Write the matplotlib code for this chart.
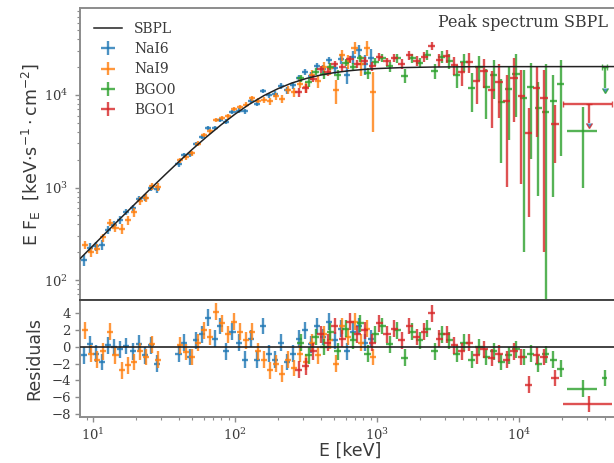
import numpy as np
import matplotlib.pyplot as plt

# SBPL model curve (E in keV, E F_E in keV s^-1 cm^-2)
model_E = [8, 10, 12.5, 16, 20, 25, 32, 40, 50, 63, 80, 100, 125, 160, 200, 250,
           320, 400, 500, 630, 800, 1000, 1500, 2500, 5000, 60000]
model_F = [167, 236, 332, 483, 678, 948, 1365, 1888, 2588, 3524, 4775, 6210, 7870,
           9860, 11670, 13430, 15130, 16410, 17440, 18250, 18870, 19300, 19770,
           20050, 20220, 20280]

# NaI6
nai6_E = [8.6, 9.5, 10.5, 11.6, 12.8, 14.1, 15.6, 17.2, 19.0, 21.0, 23.2, 25.6, 28.3,
          40, 44, 48.5, 53.5, 59, 65, 72, 79, 87, 96, 106, 117, 129, 142, 157, 173,
          191, 210, 232, 256, 282, 311, 343, 378, 417, 460, 507, 559, 617, 680, 750,
          827, 912]
nai6_F = [164, 225, 234, 242, 350, 399, 451, 545, 604, 752, 779, 998, 962,
          1798, 2228, 2299, 2968, 3503, 4388, 4418, 5370, 5152, 6516, 6789, 6684,
          8597, 8054, 11155, 9954, 10198, 12503, 11230, 12765, 15433, 17652, 16027,
          20565, 19025, 23756, 19600, 24539, 16462, 25799, 30420, 21580, 25265]
nai6_dF = [22, 24, 25, 30, 31, 36, 42, 43, 50, 58, 68, 79, 92,
           113, 130, 149, 170, 178, 202, 230, 260, 291, 326, 363, 441, 487, 531, 582,
           683, 735, 846, 900, 1019, 1143, 1346, 1556, 1774, 1996, 2222, 2625, 3036,
           3456, 4066, 4680, 5300, 6125]
nai6_res = [-1.0, 0.3, -0.8, -1.8, 0.2, 0.0, -0.3, 0.1, -0.5, 0.4, -1.0, 0.2, -2.0,
            -0.8, 0.5, -1.2, 0.8, 1.5, 3.5, 1.0, 2.5, -0.5, 1.8, 0.5, -1.5, 1.0, -1.5,
            2.5, -0.8, -1.5, 0.5, -1.8, -0.8, 1.0, 2.0, 0.3, 2.5, 1.2, 3.0, 0.8, 2.2,
            -0.5, 1.8, 2.5, 0.5, 1.0]

# NaI9
nai9_E = [8.8, 9.7, 10.7, 11.8, 13.1, 14.4, 15.9, 17.5, 19.4, 21.4, 23.7, 26.1, 28.9,
          40.8, 45, 49.5, 54.5, 60, 66.5, 73.5, 80.5, 89, 98, 108, 119, 132, 145, 160,
          177, 195, 214, 237, 261, 288, 317, 350, 386, 425, 469, 517, 570, 629, 694,
          765, 844, 930]
nai9_F = [242, 203, 219, 289, 419, 370, 358, 447, 543, 716, 778, 1036, 1019,
          1964, 2131, 2342, 2987, 3712, 4037, 5359, 5629, 5895, 7137, 7467, 7874,
          9222, 8708, 8820, 8569, 9739, 9104, 11346, 10640, 13278, 12106, 16625,
          14131, 20243, 19373, 11256, 26897, 23084, 32436, 21405, 32321, 10893]
nai9_dF = [25, 27, 29, 30, 36, 41, 43, 50, 58, 68, 78, 91, 106,
           136, 144, 165, 174, 199, 226, 257, 289, 324, 363, 404, 487, 537, 585, 690,
           746, 859, 979, 1105, 1236, 1443, 1660, 1882, 2112, 2342, 2748, 3166, 3586,
           4018, 4634, 5257, 6070, 6904]
nai9_res = [2.0, -0.8, -1.5, -0.5, 1.8, -1.0, -2.8, -2.2, -1.8, -0.5, -1.2, 0.3, -1.5,
            0.2, -0.6, -1.2, 0.5, 2.0, 1.2, 4.2, 2.8, 1.5, 3.0, 1.8, 0.8, 1.8, -0.5,
            -1.5, -2.8, -2.0, -3.2, -1.5, -2.5, -0.8, -1.8, 0.5, -1.0, 1.5, 0.8, -2.0,
            2.5, 1.2, 3.0, 0.5, 2.2, -1.2]

# BGO0
bgo0_E = [290, 330, 370, 420, 470, 530, 600, 680, 760, 860, 970, 1090, 1230, 1390,
          1570, 1770, 2000, 2250, 2540, 2860, 3230, 3640, 4100, 4630, 5220, 5890,
          6640, 7490, 8450, 9530, 10750, 12100, 13700, 15400, 17400, 19600]
bgo0_F = [15173, 13815, 17920, 16650, 20213, 16632, 22418, 20106, 25117, 17221,
          22715, 25285, 20364, 24847, 16221, 24940, 22344, 27040, 18346, 25829,
          23512, 16442, 22691, 12013, 20210, 12213, 16487, 8400, 11745, 16909, 9315,
          12150, 7290, 6581, 8600, 13100]
bgo0_dF = [1445, 1535, 1600, 1665, 1713, 1936, 1986, 2033, 2256, 2286, 2310, 2334,
           2548, 2564, 2776, 2789, 2993, 3200, 3409, 3819, 4227, 4635, 5043, 5451,
           6063, 6673, 7485, 6578, 8505, 11138, 9113, 10125, 6480, 15188, 7800, 10900]
bgo0_res = [0.5, -1.0, 1.2, 0.0, 1.8, -0.5, 2.2, 0.8, 2.8, -0.8, 1.5, 2.5, 0.3, 2.0,
            -1.3, 1.8, 0.8, 2.2, -0.5, 1.5, 0.8, -0.8, 0.5, -1.5, 0.0, -1.2, -0.5,
            -1.8, -1.0, -0.3, -1.2, -0.8, -2.0, -0.9, -1.5, -2.6]

# BGO1
bgo1_E = [280, 315, 355, 400, 450, 505, 570, 645, 725, 820, 925, 1040, 1175, 1325,
          1495, 1690, 1905, 2150, 2430, 2740, 3090, 3490, 3940, 4450, 5020, 5670,
          6400, 7230, 8160, 9210, 10400, 11700, 13300, 15000, 17900]
bgo1_F = [10749, 11895, 15070, 18860, 17798, 21750, 19814, 24339, 21728, 23498,
          20331, 25891, 23057, 25309, 21848, 26838, 23529, 25734, 33651, 23895,
          26458, 21066, 17640, 22904, 14140, 18274, 11286, 13763, 8706, 15188, 9801,
          3880, 12000, 9315, 4860]
bgo1_dF = [1278, 1350, 1420, 1640, 1695, 1740, 1964, 2013, 2052, 2274, 2302, 2326,
           2345, 2558, 2573, 2783, 2991, 3197, 3405, 3815, 4225, 4632, 5040, 5449,
           6060, 6469, 6877, 8096, 7693, 10125, 8708, 3400, 8500, 9113, 3000]
bgo1_res = [-2.7, -2.3, -0.5, 1.5, 0.5, 2.5, 1.0, 3.0, 1.5, 2.0, 0.5, 2.8, 1.5, 2.2,
            0.8, 2.5, 1.2, 1.8, 4.0, 1.0, 1.5, 0.2, -0.5, 0.5, -1.0, -0.3, -1.3, -0.8,
            -1.5, -0.5, -1.2, -4.5, -1.0, -1.2, -3.7]

# last wide BGO bins
bgo0_wide_E, bgo0_wide_lo, bgo0_wide_hi = [28000], [21600], [35500]
bgo0_wide_F, bgo0_wide_dlo, bgo0_wide_dhi = [4070], [3080], [3350]
bgo0_wide_res = [-5.0]
bgo0_ul_E, bgo0_ul_lo, bgo0_ul_hi = [40000], [38500], [41500]
bgo0_ul_F, bgo0_ul_len, bgo0_ul_res = [20300], [8400], [-3.7]
bgo1_ul_E, bgo1_ul_lo, bgo1_ul_hi = [31100], [20400], [45000]
bgo1_ul_F, bgo1_ul_len, bgo1_ul_res = [7950], [2970], [-6.8]

colors = {'NaI6': '#1f77b4', 'NaI9': '#ff7f0e', 'BGO0': '#2ca02c', 'BGO1': '#d62728'}

plt.rcParams['font.family'] = ['DejaVu Serif']
plt.rcParams['mathtext.fontset'] = 'dejavuserif'
plt.rcParams['axes.edgecolor'] = '#8c8c8c'
plt.rcParams['axes.linewidth'] = 1.4
plt.rcParams['xtick.color'] = '#8c8c8c'
plt.rcParams['ytick.color'] = '#8c8c8c'
plt.rcParams['xtick.labelcolor'] = '#3a3a3a'
plt.rcParams['ytick.labelcolor'] = '#3a3a3a'

fig = plt.figure(figsize=(6.14, 4.63), dpi=100)
ax = fig.add_axes([0.1303, 0.352, 0.8795, 0.6307])
axr = fig.add_axes([0.1303, 0.1004, 0.8795, 0.2516], sharex=ax)

ax.plot(model_E, model_F, color='#222222', lw=1.1, zorder=4, label='SBPL')

eb = dict(fmt='none', elinewidth=1.7, alpha=0.8)


def draw(E, F, dF, res, frac, name):
    E = np.array(E, dtype=float)
    xerr = [E - E / (1 + frac), E * frac]
    ax.errorbar(E, F, yerr=dF, xerr=xerr, ecolor=colors[name], label=name, **eb)
    axr.errorbar(E, res, yerr=1, xerr=xerr, ecolor=colors[name], **eb)


def draw_bins(E, lo, hi, F, ylo, yhi, res, name, ul=False):
    E = np.array(E, dtype=float)
    xerr = [E - np.array(lo), np.array(hi) - E]
    if ul:
        ax.errorbar(E, F, yerr=[ylo, yhi], xerr=xerr, uplims=True, capsize=2.5,
                    ecolor=colors[name], **eb)
    else:
        ax.errorbar(E, F, yerr=[ylo, yhi], xerr=xerr, ecolor=colors[name], **eb)
    axr.errorbar(E, res, yerr=1, xerr=xerr, ecolor=colors[name], **eb)


draw(nai6_E, nai6_F, nai6_dF, nai6_res, 0.05, 'NaI6')
draw(nai9_E, nai9_F, nai9_dF, nai9_res, 0.05, 'NaI9')
draw(bgo0_E, bgo0_F, bgo0_dF, bgo0_res, 0.06, 'BGO0')
draw(bgo1_E, bgo1_F, bgo1_dF, bgo1_res, 0.06, 'BGO1')
draw_bins(bgo0_wide_E, bgo0_wide_lo, bgo0_wide_hi, bgo0_wide_F, bgo0_wide_dlo,
          bgo0_wide_dhi, bgo0_wide_res, 'BGO0')
draw_bins(bgo0_ul_E, bgo0_ul_lo, bgo0_ul_hi, bgo0_ul_F, bgo0_ul_len, [0],
          bgo0_ul_res, 'BGO0', ul=True)
draw_bins(bgo1_ul_E, bgo1_ul_lo, bgo1_ul_hi, bgo1_ul_F, bgo1_ul_len, [0],
          bgo1_ul_res, 'BGO1', ul=True)

axr.axhline(0, color='#222222', lw=1.2, zorder=5)

ax.set_xscale('log')
ax.set_yscale('log')
ax.set_xlim(8.1, 51400)
ax.set_ylim(61, 87000)
axr.set_ylim(-8.3, 5.6)
axr.set_yticks([4, 2, 0, -2, -4, -6, -8])
ax.tick_params(labelbottom=False)
for a in (ax, axr):
    a.tick_params(which='major', length=3.5, width=1, labelsize=9.5)
    a.tick_params(which='minor', length=2, width=0.8)
ax.tick_params(axis='y', pad=5)
axr.tick_params(axis='y', pad=3)
axr.tick_params(axis='x', pad=4)
ax.spines['bottom'].set_color('#444444')
axr.spines['top'].set_color('#444444')

lab = dict(fontsize=12.5, family='DejaVu Sans', color='#3a3a3a')
ax.set_ylabel(r'E F$_{\rm E}$  [keV$\cdot$s$^{-1}\cdot$cm$^{-2}$]',
              math_fontfamily='dejavusans', **lab)
axr.set_ylabel('Residuals', **lab)
axr.set_xlabel('E [keV]', **lab)
ax.yaxis.set_label_coords(-0.068, 0.5)
axr.yaxis.set_label_coords(-0.068, 0.5)
axr.xaxis.set_label_coords(0.5, -0.215)

ax.text(0.978, 0.949, 'Peak spectrum SBPL', transform=ax.transAxes, ha='right',
        va='center', fontsize=11.5, color='#3a3a3a')
ax.legend(loc='upper left', frameon=False, fontsize=10, labelspacing=0.45,
          handletextpad=0.9, borderaxespad=0.6, labelcolor='#3a3a3a')

fig.savefig('out.png', dpi=100)
